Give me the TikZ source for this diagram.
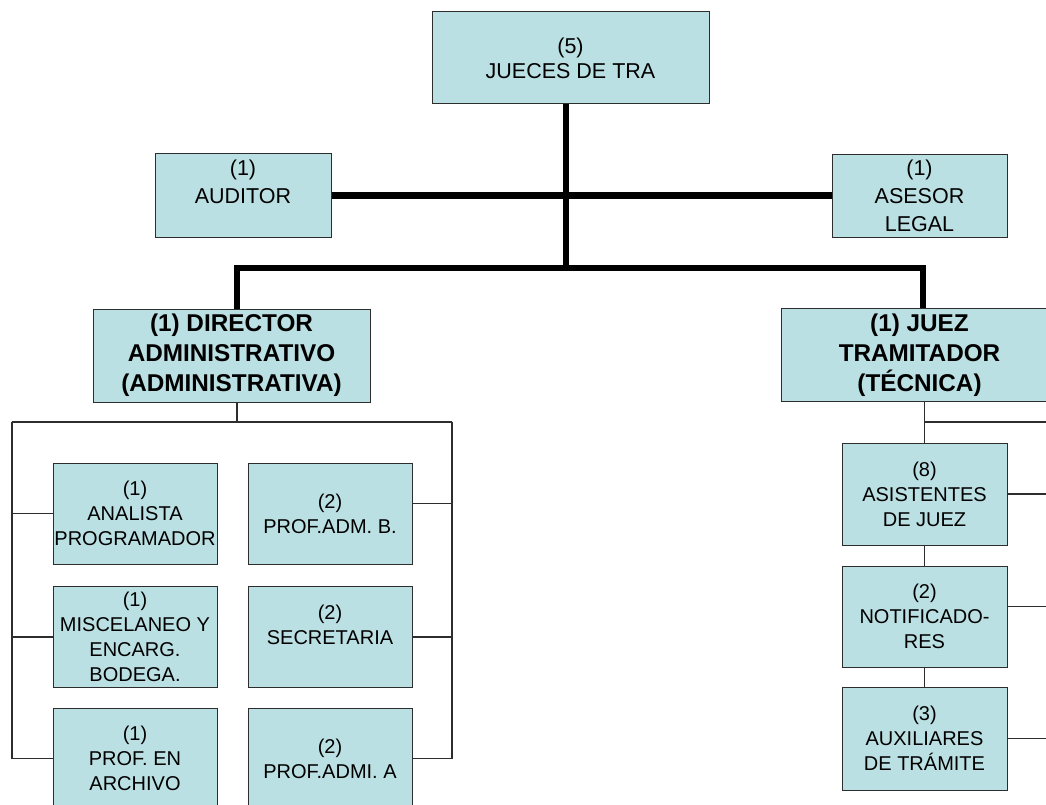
\documentclass[tikz,border=0pt]{standalone}
\usepackage{fontspec}
\setmainfont{Liberation Sans}
\definecolor{boxfill}{RGB}{187,224,227}
\definecolor{boxline}{RGB}{45,45,45}
\begin{document}
\begin{tikzpicture}[x=1pt,y=-1pt,
  box/.style={draw=boxline, line width=1pt, fill=boxfill, align=center, inner sep=0pt, font=\fontsize{20}{25}\selectfont},
  topbox/.style={box, font=\fontsize{21.5}{28}\selectfont},
  headbox/.style={box, minimum width=277pt, minimum height=93pt, font=\fontsize{24.3}{30}\selectfont\bfseries},
  sbox/.style={box, minimum width=164pt, minimum height=101pt},
  heavy/.style={line width=6.5pt, draw=black},
  conn/.style={line width=1.2pt, draw=boxline}]
\useasboundingbox (0,0) rectangle (1046,805);
\clip (0,0) rectangle (1046,805);

% top level
\node[topbox, font=\fontsize{21.5}{25}\selectfont, minimum width=277pt, minimum height=92pt] (top) at (570.5,58) {(5)\\JUECES DE TRA};
\node[topbox, minimum width=176pt, minimum height=83pt] (aud) at (243,195.5) {(1)\\AUDITOR\\~};
\node[topbox, minimum width=175pt, minimum height=82pt] (ase) at (919.5,196) {(1)\\ASESOR\\LEGAL};

% heads
\node[headbox] (dir) at (231.5,355.5) {(1) DIRECTOR\\ADMINISTRATIVO\\(ADMINISTRATIVA)};
\node[headbox] (juez) at (919.5,355) {(1) JUEZ\\TRAMITADOR\\(TÉCNICA)};

% administrative
\node[sbox] (ana) at (135,513.5) {(1)\\ANALISTA\\PROGRAMADOR};
\node[sbox] (pab) at (330,513.5) {(2)\\PROF.ADM. B.};
\node[sbox] (mis) at (135,637) {(1)\\MISCELANEO Y\\ENCARG.\\BODEGA.};
\node[sbox] (sec) at (330,637) {(2)\\SECRETARIA\\~};
\node[sbox] (arc) at (135,758.5) {(1)\\PROF. EN\\ARCHIVO};
\node[sbox] (paa) at (330,758.5) {(2)\\PROF.ADMI. A};

% technical
\node[sbox, minimum width=165pt, minimum height=102pt] (asi) at (924.5,494) {(8)\\ASISTENTES\\DE JUEZ};
\node[sbox, minimum width=165pt] (not) at (924.5,616.5) {(2)\\NOTIFICADO-\\RES};
\node[sbox, minimum width=165pt, minimum height=103pt] (aux) at (924.5,738.5) {(3)\\AUXILIARES\\DE TRÁMITE};

% heavy connectors
\coordinate (hub) at (566,268);
\coordinate (busL) at (237,268);
\coordinate (busR) at (923,268);
\draw[heavy] (aud.east) -- (aud.east -| ase.west);
\draw[heavy] (hub |- top.south) -- (hub);
\draw[heavy, line join=miter] (busL |- dir.north) -- (busL) -- (busR) -- (busR |- juez.north);

% administrative connectors
\coordinate (dirB) at (237,422);
\coordinate (LT) at (12,422);
\coordinate (RT) at (452,422);
\draw[conn] (dirB |- dir.south) -- (dirB);
\draw[conn] (LT) -- (RT);
\draw[conn] (LT) |- (arc.west);
\draw[conn] (LT |- ana.west) -- (ana.west);
\draw[conn] (LT |- mis.west) -- (mis.west);
\draw[conn] (RT) |- (paa.east);
\draw[conn] ([yshift=10pt]pab.east) -- ([yshift=10pt]pab.east -| RT);
\draw[conn] (sec.east) -- (sec.east -| RT);

% technical connectors
\coordinate (JR) at (1060,422);
\coordinate (RX) at (1060,0);
\draw[conn] (asi.north |- juez.south) -- (asi.north);
\draw[conn] (asi.north |- JR) -- (JR);
\draw[conn] (asi.south) -- (not.north);
\draw[conn] (not.south) -- (aux.north);
\draw[conn] (asi.east) -- (asi.east -| RX);
\draw[conn] ([yshift=10pt]not.east) -- ([yshift=10pt]not.east -| RX);
\draw[conn] (aux.east) -- (aux.east -| RX);
\end{tikzpicture}
\end{document}
